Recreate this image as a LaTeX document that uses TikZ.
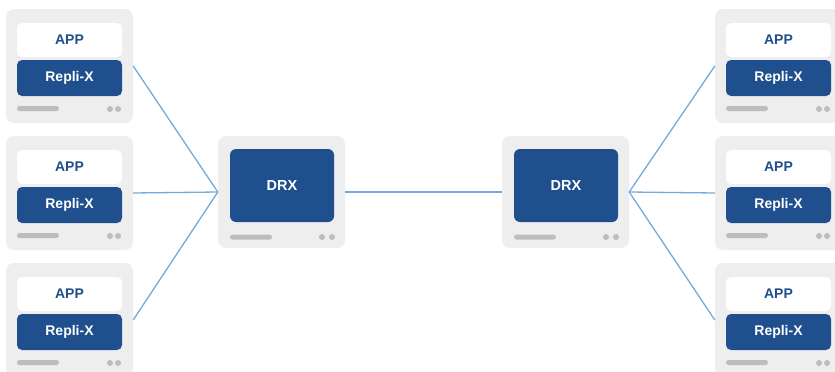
\documentclass[tikz,border=0pt]{standalone}
\usepackage{fontspec}
\setmainfont{Liberation Sans}
\definecolor{bluebox}{HTML}{1F4F8C}
\definecolor{outergray}{HTML}{EEEEEE}
\definecolor{bargray}{HTML}{BDBDBD}
\definecolor{linkblue}{HTML}{72AADB}
\tikzset{
  outerbox/.style={fill=outergray, rounded corners=8pt, minimum width=127pt, minimum height=114pt, inner sep=0pt},
  drxouter/.style={outerbox, minimum height=112pt},
  appbox/.style={fill=white, rounded corners=5pt, minimum width=105pt, minimum height=34pt, inner sep=0pt, text=bluebox, font=\bfseries\fontsize{14}{16}\selectfont},
  replbox/.style={fill=bluebox, rounded corners=5pt, minimum width=105pt, minimum height=36pt, inner sep=0pt, text=white, font=\bfseries\fontsize{14}{16}\selectfont},
  drxbox/.style={fill=bluebox, rounded corners=6pt, minimum width=104pt, minimum height=73pt, inner sep=0pt, text=white, font=\bfseries\fontsize{14.5}{16}\selectfont},
  barbox/.style={fill=bargray, rounded corners=2.5pt, minimum width=42pt, minimum height=5pt, inner sep=0pt},
  dotbox/.style={circle, fill=bargray, minimum size=6pt, inner sep=0pt},
  link/.style={draw=linkblue, line width=1.3pt}
}
\newcommand\srvbox[3]{% name, x0, y0
  \node[outerbox] (#1) at (#2+63.5,#3+57) {};
  \node[appbox] (#1app) at (#2+63.5,#3+31) {APP};
  \node[replbox] (#1rep) at (#2+63.5,#3+69) {Repli-X};
  \node[barbox] (#1bar) at (#2+32,#3+99.5) {};
  \node[dotbox] (#1da) at (#2+104,#3+100) {};
  \node[dotbox] (#1db) at (#2+112,#3+100) {};
}
\newcommand\drxsrv[3]{% name, x0, y0
  \node[drxouter] (#1) at (#2+63.5,#3+56) {};
  \node[drxbox] (#1in) at (#2+64,#3+49.5) {DRX};
  \node[barbox] (#1bar) at (#2+33,#3+101) {};
  \node[dotbox] (#1da) at (#2+104,#3+101) {};
  \node[dotbox] (#1db) at (#2+114,#3+101) {};
}
\begin{document}
\begin{tikzpicture}[x=1pt,y=-1pt]
  \useasboundingbox (0,0) rectangle (835,372);
  \clip (0,0) rectangle (835,372);
  \srvbox{L1}{6}{9}
  \srvbox{L2}{6}{136}
  \srvbox{L3}{6}{263}
  \srvbox{R1}{715}{9}
  \srvbox{R2}{715}{136}
  \srvbox{R3}{715}{263}
  \drxsrv{D1}{218}{136}
  \drxsrv{D2}{502}{136}
  \draw[link] (L1.east) -- (D1.west);
  \draw[link] (L2.east) -- (D1.west);
  \draw[link] (L3.east) -- (D1.west);
  \draw[link] (D1.east) -- (D2.west);
  \draw[link] (D2.east) -- (R1.west);
  \draw[link] (D2.east) -- (R2.west);
  \draw[link] (D2.east) -- (R3.west);
\end{tikzpicture}
\end{document}
